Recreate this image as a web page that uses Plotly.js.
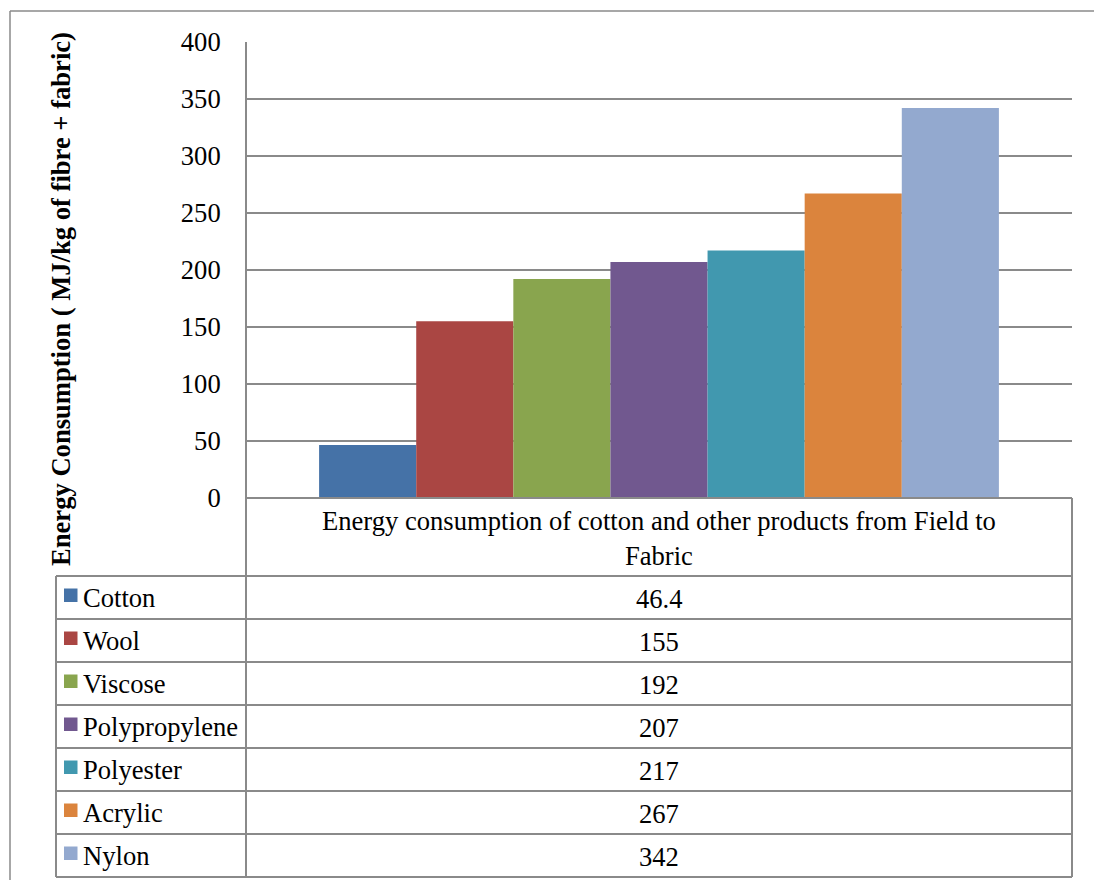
<!DOCTYPE html>
<html>
<head>
<meta charset="utf-8">
<script src="https://cdn.plot.ly/plotly-3.0.1.min.js"></script>
<style>
  html, body { margin: 0; padding: 0; background: #ffffff; }
  #chart { width: 1094px; height: 880px; }
</style>
</head>
<body>
<div id="chart"></div>
<script>
// Energy use per fibre, field to fabric (MJ/kg)
const fibres = ['Cotton', 'Wool', 'Viscose', 'Polypropylene', 'Polyester', 'Acrylic', 'Nylon'];
const energy = [46.4, 155, 192, 207, 217, 267, 342];
const colours = ['#4572A7', '#AA4643', '#89A54E', '#71588F', '#4198AF', '#DB843D', '#93A9CF'];
const categoryLabel = 'Energy consumption of cotton and other products from Field to<br>Fabric';
const yTitle = 'Energy Consumption ( MJ/kg of fibre + fabric)';
const yTicks = [0, 50, 100, 150, 200, 250, 300, 350, 400];

// Frame geometry in pixels
const W = 1094, H = 880;
const plotL = 246, plotR = 1072, plotT = 42, plotB = 498;
const tableL = 56, rowH = 43, headerB = 576;
const lineCol = '#8a8a8a';
const serif = '"Liberation Serif", "Times New Roman", serif';
const fs = 26.6;

// pixel -> paper coordinates
const px = X => (X - plotL) / (plotR - plotL);
const py = Y => (plotB - Y) / (plotB - plotT);

const traces = fibres.map((f, i) => ({
  type: 'bar',
  name: f,
  x: ['cat'],
  y: [energy[i]],
  marker: { color: colours[i], line: { width: 0 } },
  hoverinfo: 'skip'
}));

const shapes = [];
const annotations = [];
const hline = (x0, x1, Y, w) => shapes.push({
  type: 'line', xref: 'paper', yref: 'paper',
  x0: px(x0), x1: px(x1), y0: py(Y), y1: py(Y),
  line: { color: lineCol, width: w }
});
const vline = (X, y0, y1, w) => shapes.push({
  type: 'line', xref: 'paper', yref: 'paper',
  x0: px(X), x1: px(X), y0: py(y0), y1: py(y1),
  line: { color: lineCol, width: w }
});

// outer chart border
hline(10, W + 5, 11, 1.5);
vline(10, 11, H + 5, 1.5);

// axis line and data table grid
const tableB = headerB + rowH * fibres.length;
vline(plotL, plotT, tableB, 2);
vline(plotR, plotB, tableB, 2);
vline(tableL, headerB, tableB, 2);
hline(plotL, plotR, plotB, 2);
for (let r = 0; r <= fibres.length; r++) {
  hline(tableL, plotR, headerB + r * rowH, 2);
}

// category header of the table
annotations.push({
  xref: 'paper', yref: 'paper',
  x: px((plotL + plotR) / 2), y: py((plotB + headerB) / 2 + 1),
  xanchor: 'center', yanchor: 'middle',
  text: categoryLabel, showarrow: false, align: 'center',
  font: { family: serif, size: fs, color: '#000' }
});

// table rows: legend key, series name, value
fibres.forEach((f, i) => {
  const cy = headerB + i * rowH + rowH / 2;
  shapes.push({
    type: 'rect', xref: 'paper', yref: 'paper',
    x0: px(64), x1: px(77.5), y0: py(cy - 9), y1: py(cy + 4.5),
    fillcolor: colours[i], line: { width: 0 }
  });
  annotations.push({
    xref: 'paper', yref: 'paper', x: px(81), y: py(cy),
    xanchor: 'left', yanchor: 'middle', text: f, showarrow: false,
    font: { family: serif, size: fs, color: '#000' }
  });
  annotations.push({
    xref: 'paper', yref: 'paper', x: px((plotL + plotR) / 2), y: py(cy + 1),
    xanchor: 'center', yanchor: 'middle', text: String(energy[i]), showarrow: false,
    font: { family: serif, size: fs, color: '#000' }
  });
});

// rotated value-axis title
annotations.push({
  xref: 'paper', yref: 'paper', x: px(61), y: py(299),
  xanchor: 'center', yanchor: 'middle', textangle: -90,
  text: '<b>' + yTitle + '</b>', showarrow: false,
  font: { family: serif, size: fs, color: '#000' }
});

const layout = {
  width: W, height: H,
  margin: { l: plotL, r: W - plotR, t: plotT, b: H - plotB, pad: 0 },
  paper_bgcolor: '#ffffff', plot_bgcolor: '#ffffff',
  showlegend: false,
  barmode: 'group', bargap: 0.177, bargroupgap: 0,
  xaxis: { showticklabels: false, showgrid: false, zeroline: false, showline: false, ticks: '', fixedrange: true },
  yaxis: {
    range: [0, 400], tickvals: yTicks, ticktext: yTicks.map(String),
    showgrid: true, gridcolor: lineCol, gridwidth: 1.5,
    zeroline: false, showline: false,
    ticks: 'outside', ticklen: 19, tickcolor: 'rgba(0,0,0,0)',
    tickfont: { family: serif, size: fs, color: '#000' },
    fixedrange: true
  },
  shapes: shapes,
  annotations: annotations
};

Plotly.newPlot('chart', traces, layout, { staticPlot: true, displayModeBar: false });
</script>
</body>
</html>
